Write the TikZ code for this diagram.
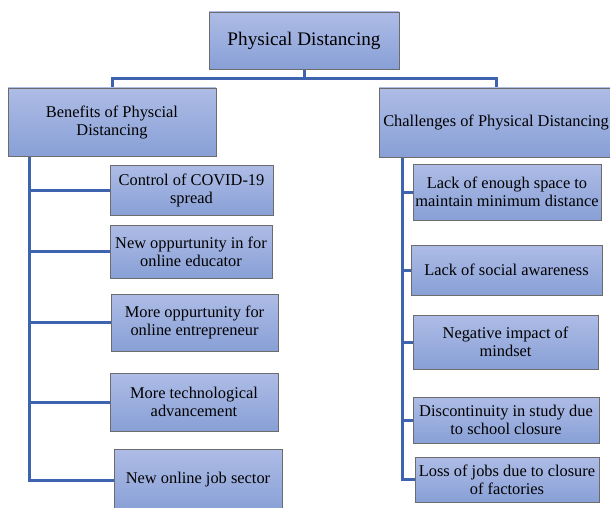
\documentclass[tikz,border=0pt]{standalone}
\usepackage{fontspec}
\setmainfont{Liberation Serif}
\usetikzlibrary{backgrounds}
\definecolor{boxtop}{RGB}{174,188,230}
\definecolor{boxbot}{RGB}{136,160,214}
\definecolor{linkblue}{RGB}{62,100,176}
\begin{document}
\begin{tikzpicture}[x=1pt,y=1pt,
    box/.style={draw=gray!85!black, line width=0.8pt, top color=boxtop, bottom color=boxbot,
      align=center, inner sep=0pt, font=\fontsize{16.4}{18}\selectfont},
    link/.style={draw=linkblue, line width=3pt}]
  \useasboundingbox (0,0) rectangle (610,-508);
  \clip (0,0) rectangle (610,-508);
  % top level
  \node[box, minimum width=190, minimum height=57, font=\fontsize{19.2}{22}\selectfont] (root) at (304,-40.5) {Physical Distancing};
  \node[box, minimum width=208, minimum height=68] (benefits) at (112,-122) {Benefits of Physcial\\Distancing};
  \node[box, minimum width=234, minimum height=69] (challenges) at (496,-122.5) {Challenges of Physical Distancing};
  % benefits
  \node[box, minimum width=163, minimum height=50] (ctrl) at (191.5,-190) {Control of COVID-19\\spread};
  \node[box, minimum width=162, minimum height=53] (educ) at (191,-251.5) {New oppurtunity in for\\online educator};
  \node[box, minimum width=167, minimum height=57] (entre) at (194.5,-322.5) {More oppurtunity for\\online entrepreneur};
  \node[box, minimum width=168, minimum height=58] (tech) at (194,-402) {More technological\\advancement};
  \node[box, minimum width=168, minimum height=62] (job) at (198,-480) {New online job sector};
  % challenges
  \node[box, minimum width=188, minimum height=56] (space) at (507,-192) {Lack of enough space to\\maintain minimum distance};
  \node[box, minimum width=191, minimum height=50] (aware) at (506.5,-270) {Lack of social awareness};
  \node[box, minimum width=185, minimum height=54] (mind) at (505.5,-342) {Negative impact of\\mindset};
  \node[box, minimum width=186, minimum height=46] (school) at (506,-420) {Discontinuity in study due\\to school closure};
  \node[box, minimum width=184, minimum height=45] (factory) at (507,-479.5) {Loss of jobs due to closure\\of factories};
  % connectors
  \begin{scope}[on background layer]
    \draw[link] (root.south) -- ++(0,-9) coordinate (hub);
    \draw[link] (benefits.north) |- (hub) -| (challenges.north);
    \coordinate (lspine) at ([xshift=22]benefits.south west);
    \coordinate (rspine) at ([xshift=24]challenges.south west);
    \foreach \c in {ctrl,educ,entre,tech,job}
      \draw[link] (lspine) |- (\c.west);
    \foreach \c in {space,aware,mind,school,factory}
      \draw[link] (rspine) |- (\c.west);
  \end{scope}
\end{tikzpicture}
\end{document}
